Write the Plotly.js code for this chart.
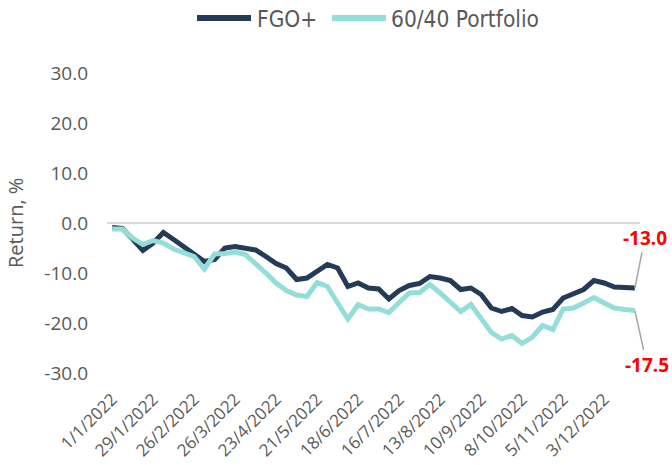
<!DOCTYPE html>
<html>
<head>
<meta charset="utf-8">
<script src="https://cdn.plot.ly/plotly-3.0.1.min.js"></script>
<style>html,body{margin:0;padding:0;background:#fff;}#chart{width:672px;height:465px;}</style>
</head>
<body>
<div id="chart"></div>
<script>
const dates = ["1/1/2022","8/1/2022","15/1/2022","22/1/2022","29/1/2022","5/2/2022","12/2/2022","19/2/2022","26/2/2022",
"5/3/2022","12/3/2022","19/3/2022","26/3/2022","2/4/2022","9/4/2022","16/4/2022","23/4/2022","30/4/2022",
"7/5/2022","14/5/2022","21/5/2022","28/5/2022","4/6/2022","11/6/2022","18/6/2022","25/6/2022",
"2/7/2022","9/7/2022","16/7/2022","23/7/2022","30/7/2022","6/8/2022","13/8/2022","20/8/2022","27/8/2022",
"3/9/2022","10/9/2022","17/9/2022","24/9/2022","1/10/2022","8/10/2022","15/10/2022","22/10/2022","29/10/2022",
"5/11/2022","12/11/2022","19/11/2022","26/11/2022","3/12/2022","10/12/2022","17/12/2022","24/12/2022"];

const tickLabels = ["1/1/2022","29/1/2022","26/2/2022","26/3/2022","23/4/2022","21/5/2022","18/6/2022",
"16/7/2022","13/8/2022","10/9/2022","8/10/2022","5/11/2022","3/12/2022"];

const fgo = [-0.9,-1.1,-3.2,-5.5,-4.0,-1.9,-3.3,-4.8,-6.3,-7.7,-7.3,-5.0,-4.7,
-5.0,-5.4,-6.7,-8.1,-9.0,-11.3,-11.0,-9.7,-8.3,-9.0,-12.7,-12.0,-13.0,
-13.2,-15.2,-13.5,-12.5,-12.1,-10.7,-11.0,-11.5,-13.3,-13.0,-14.3,-17.0,-17.7,
-17.1,-18.5,-18.8,-17.8,-17.3,-15.0,-14.2,-13.3,-11.5,-12.0,-12.8,-13.0,-13.0];

const portfolio6040 = [-1.2,-1.2,-3.0,-4.3,-3.5,-4.0,-5.2,-5.9,-6.7,-9.2,-6.2,-6.1,-5.8,
-6.3,-8.0,-10.0,-12.0,-13.5,-14.4,-14.7,-11.9,-12.7,-16.0,-19.2,-16.3,-17.2,
-17.2,-17.9,-15.9,-14.0,-13.9,-12.3,-14.0,-15.7,-17.7,-16.3,-19.0,-21.9,-23.2,
-22.5,-24.1,-22.8,-20.5,-21.3,-17.2,-17.0,-16.0,-14.9,-16.0,-17.0,-17.3,-17.5];

const seriesNames = ['FGO+', '60/40 Portfolio'];
const seriesColors = ['#243B57', '#93DED8'];
const yTicks = [-30,-20,-10,0,10,20,30];

const grey = '#595959';
const fontFam = '"Open Sans", "Noto Sans", sans-serif';
const legendFam = '"Liberation Sans Narrow", "DejaVu Sans Condensed", "Open Sans", sans-serif';
const last = dates.length - 1;

// plot area in pixels: left 107, right 640, top 73, bottom 373
const L = 107, W = 533, T = 73, H = 300;
const px = v => (v - L) / W;
const py = v => (T + H - v) / H;

const traces = [
  {x: dates, y: fgo, name: seriesNames[0], type: 'scatter', mode: 'lines',
   line: {color: seriesColors[0], width: 5}},
  {x: dates, y: portfolio6040, name: seriesNames[1], type: 'scatter', mode: 'lines',
   line: {color: seriesColors[1], width: 5}}
];

// manual legend (long sample lines like the reference)
const legendItems = [
  {x0: 197, x1: 251, tx: 255},
  {x0: 332, x1: 386, tx: 389}
];
const shapes = legendItems.map((it, i) => ({
  type: 'line', xref: 'paper', yref: 'paper',
  x0: px(it.x0), x1: px(it.x1), y0: py(18), y1: py(18),
  line: {color: seriesColors[i], width: 6}
}));
const legendAnn = legendItems.map((it, i) => ({
  xref: 'paper', yref: 'paper', x: px(it.tx), y: py(19),
  xanchor: 'left', yanchor: 'middle', showarrow: false,
  text: seriesNames[i],
  font: {size: 22.5, color: grey, family: legendFam}
}));

const layout = {
  width: 672, height: 465,
  paper_bgcolor: '#ffffff', plot_bgcolor: '#ffffff',
  margin: {l: L, r: 672 - L - W, t: T, b: 465 - T - H},
  font: {family: fontFam, color: grey, size: 16},
  showlegend: false,
  shapes: shapes,
  xaxis: {type: 'category', range: [-0.5, dates.length - 0.5],
          tickmode: 'array', tickvals: tickLabels, ticktext: tickLabels,
          tickangle: -45, tickfont: {size: 17, color: grey},
          ticklabelstandoff: 12,
          showgrid: false, zeroline: false, showline: false, ticks: ''},
  yaxis: {range: [-30, 30], tickmode: 'array', tickvals: yTicks,
          ticktext: yTicks.map(v => v.toFixed(1)),
          tickfont: {size: 19, color: grey},
          showgrid: false, zeroline: true, zerolinecolor: '#D9D9D9', zerolinewidth: 2,
          showline: false, ticks: '', ticklabelstandoff: 18, automargin: false},
  annotations: legendAnn.concat([
    {xref: 'paper', yref: 'paper', x: px(15), y: 0.5, text: 'Return, %',
     textangle: -90, showarrow: false, xanchor: 'center', yanchor: 'middle',
     font: {size: 20, color: grey}},
    {x: dates[last], y: fgo[last], text: fgo[last].toFixed(1),
     showarrow: true, arrowhead: 0, arrowwidth: 1.5, arrowcolor: '#A6A6A6',
     ax: 10, ay: -50, standoff: 0,
     font: {size: 19, color: '#FF0000', family: fontFam, weight: 'bold'}},
    {x: dates[last], y: portfolio6040[last], text: portfolio6040[last].toFixed(1),
     showarrow: true, arrowhead: 0, arrowwidth: 1.5, arrowcolor: '#A6A6A6',
     ax: 12, ay: 54, standoff: 0,
     font: {size: 19, color: '#FF0000', family: fontFam, weight: 'bold'}}
  ])
};

Plotly.newPlot('chart', traces, layout, {staticPlot: true, displayModeBar: false});
</script>
</body>
</html>
